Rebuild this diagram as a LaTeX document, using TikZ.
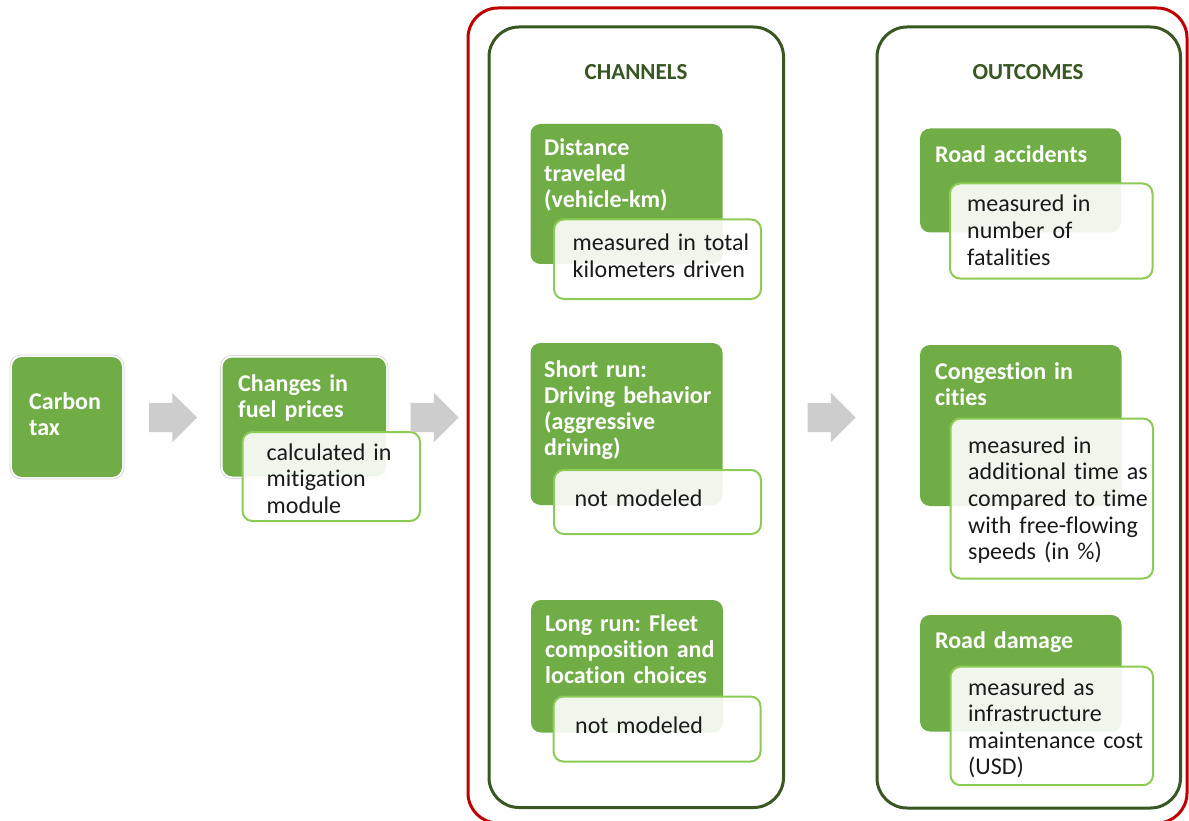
\documentclass[tikz,border=0pt]{standalone}
\usepackage{fontspec}
\setmainfont[Ligatures=NoCommon]{Carlito}
\usetikzlibrary{shapes.arrows}
\frenchspacing

\definecolor{leaf}{RGB}{112,173,71}
\definecolor{leafline}{RGB}{140,203,85}
\definecolor{forest}{RGB}{56,87,35}
\definecolor{crimson}{RGB}{192,0,0}
\definecolor{arrowgray}{RGB}{205,205,205}
\definecolor{ink}{RGB}{26,26,26}

\tikzset{
  box/.style={inner sep=0pt, outer sep=0pt, anchor=north west},
  frame/.style={box, draw=crimson, line width=3pt, rounded corners=30pt},
  panel/.style={box, draw=forest, line width=3pt, rounded corners=30pt, fill=white},
  halo/.style={box, fill=white, draw=black!16, line width=0.7pt, rounded corners=11pt},
  greenbox/.style={box, fill=leaf, rounded corners=10pt},
  notebox/.style={box, fill=white, fill opacity=0.9, draw=leafline, line width=2pt, rounded corners=10pt},
  title/.style={anchor=base, text=forest, font=\fontsize{23}{26}\selectfont\bfseries, inner sep=0pt},
  head/.style={anchor=base west, text=white, inner sep=0pt, text width=200pt, align=left,
               font=\fontsize{24}{26}\selectfont\bfseries},
  note/.style={anchor=base west, text=ink, inner sep=0pt, text width=200pt, align=left,
               font=\fontsize{24}{26.6}\selectfont},
  blockarrow/.style={single arrow, fill=arrowgray, draw=none, inner sep=0pt, outer sep=0pt,
               minimum height=48pt, minimum width=49pt, single arrow head extend=10pt,
               text height=29pt, text depth=0pt, text width=0pt, anchor=tail}
}

\begin{document}
\begin{tikzpicture}[x=1pt, y=-1pt]
  \clip (0,0) rectangle (1189,821);
  \fill[white] (0,0) rectangle (1189,821);

  % left chain: tax and fuel prices
  \node[halo, minimum width=114pt, minimum height=124pt] (carbonhalo) at (10,355) {};
  \node[greenbox, minimum width=110pt, minimum height=120pt] (carbon) at (12,357) {};
  \node[head] (carbontxt) at (29,409) {Carbon\\tax};

  \node[halo, minimum width=167.5pt, minimum height=123pt] (fuelhalo) at (220.5,355.5) {};
  \node[greenbox, minimum width=163.5pt, minimum height=119pt] (fuel) at (222.5,357.5) {};
  \node[head] (fueltxt) at (238,391.5) {Changes in\\fuel prices};
  \node[notebox, minimum width=177.5pt, minimum height=89pt] (fuelnote) at (242.5,432) {};
  \node[note] (fuelnotetxt) at (266.5,460) {calculated in\\mitigation\\module};

  % outer frame and the two panels
  \node[frame, minimum width=719pt, minimum height=815pt] (scope) at (468,8) {};
  \node[panel, minimum width=294.5pt, minimum height=780.5pt] (channels) at (489,27) {};
  \node[panel, minimum width=303.5pt, minimum height=781pt] (outcomes) at (877,27) {};
  \node[title] (chtitle) at (636,80) {CHANNELS};
  \node[title] (outtitle) at (1028,80) {OUTCOMES};

  % block arrows
  \node[blockarrow] (arr1) at (149,417.5) {};
  \node[blockarrow] (arr2) at (410.5,417.5) {};
  \node[blockarrow] (arr3) at (807.5,417.5) {};

  % channels
  \node[greenbox, minimum width=192pt, minimum height=140pt] (dist) at (530.5,124) {};
  \node[head] (disttxt) at (544,156) {Distance\\traveled\\(vehicle-km)};
  \node[notebox, minimum width=207pt, minimum height=79.5pt] (distnote) at (554,219.5) {};
  \node[note] (distnotetxt) at (572.5,250.5) {measured in total\\kilometers driven};

  \node[greenbox, minimum width=192pt, minimum height=162pt] (short) at (530.5,343) {};
  \node[head] (shorttxt) at (544,377) {Short run:\\Driving behavior\\(aggressive\\driving)};
  \node[notebox, minimum width=207pt, minimum height=64pt] (shortnote) at (554,470) {};
  \node[note] (shortnotetxt) at (574.5,506) {not modeled};

  \node[greenbox, minimum width=192pt, minimum height=132.5pt] (long) at (531,600) {};
  \node[head] (longtxt) at (545,631.5) {Long run: Fleet\\composition and\\location choices};
  \node[notebox, minimum width=207pt, minimum height=65pt] (longnote) at (553.5,696.5) {};
  \node[note] (longnotetxt) at (575,733.3) {not modeled};

  % outcomes
  \node[greenbox, minimum width=201pt, minimum height=104pt] (acc) at (920,128.5) {};
  \node[head] (acctxt) at (935,162.3) {Road accidents};
  \node[notebox, minimum width=202.5pt, minimum height=95pt] (accnote) at (950,183.5) {};
  \node[note] (accnotetxt) at (967,212) {measured in\\number of\\fatalities};

  \node[greenbox, minimum width=201.5pt, minimum height=161pt] (cong) at (920,345) {};
  \node[head] (congtxt) at (935,379.3) {Congestion in\\cities};
  \node[notebox, minimum width=202.5pt, minimum height=160pt] (congnote) at (950.5,418.5) {};
  \node[note] (congnotetxt) at (968,453.3) {measured in\\additional time as\\compared to time\\with free-flowing\\speeds (in \%)};

  \node[greenbox, minimum width=201.5pt, minimum height=116.5pt] (dmg) at (920,615) {};
  \node[head] (dmgtxt) at (935,648.3) {Road damage};
  \node[notebox, minimum width=202.5pt, minimum height=118.5pt] (dmgnote) at (950.5,666.7) {};
  \node[note] (dmgnotetxt) at (968,695) {measured as\\infrastructure\\maintenance cost\\(USD)};
\end{tikzpicture}
\end{document}
